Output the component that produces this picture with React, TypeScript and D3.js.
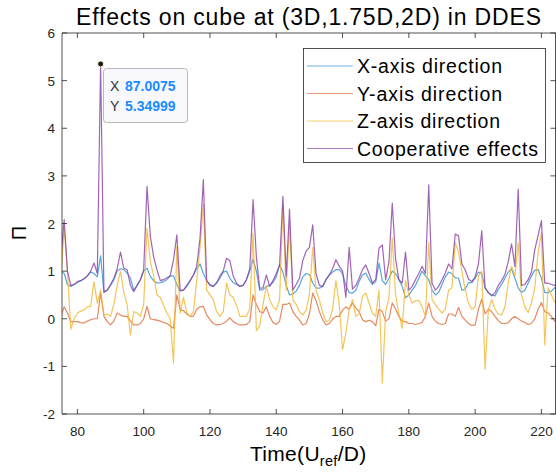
import React from "react";
import * as d3 from "d3";

// sample times (U_ref/D)
const times = [
  75, 76, 77, 78, 79, 80, 81, 82, 83, 84,
  85, 86, 87, 88, 89, 90, 91, 92, 93, 94,
  95, 96, 97, 98, 99, 100, 101, 102, 103, 104,
  105, 106, 107, 108, 109, 110, 111, 112, 113, 114,
  115, 116, 117, 118, 119, 120, 121, 122, 123, 124,
  125, 126, 127, 128, 129, 130, 131, 132, 133, 134,
  135, 136, 137, 138, 139, 140, 141, 142, 143, 144,
  145, 146, 147, 148, 149, 150, 151, 152, 153, 154,
  155, 156, 157, 158, 159, 160, 161, 162, 163, 164,
  165, 166, 167, 168, 169, 170, 171, 172, 173, 174,
  175, 176, 177, 178, 179, 180, 181, 182, 183, 184,
  185, 186, 187, 188, 189, 190, 191, 192, 193, 194,
  195, 196, 197, 198, 199, 200, 201, 202, 203, 204,
  205, 206, 207, 208, 209, 210, 211, 212, 213, 214,
  215, 216, 217, 218, 219, 220, 221, 222, 223, 224,
  225,
];

const xDir = [
  1.0, 0.95, 0.72, 0.68, 0.72, 0.76, 0.8, 0.84, 0.9, 0.98,
  0.95, 0.88, 1.32, 0.55, 0.6, 0.7, 0.82, 1.0, 1.05, 1.03,
  0.96, 0.85, 0.6, 0.7, 0.82, 1.0, 1.06, 0.89, 0.8, 0.75,
  0.76, 0.78, 0.82, 0.9, 0.9, 0.72, 0.58, 0.6, 0.68, 0.8,
  0.92, 1.05, 1.15, 0.95, 0.8, 0.72, 0.68, 0.76, 0.85, 0.98,
  1.0, 0.85, 0.76, 0.72, 0.68, 0.7, 0.82, 1.0, 1.25, 1.0,
  0.6, 0.61, 0.68, 0.7, 0.76, 0.88, 1.13, 0.98, 0.7, 0.5,
  0.52, 0.58, 0.7, 0.88, 0.95, 0.93, 0.75, 0.65, 0.64, 0.68,
  0.82, 0.92, 0.98, 1.03, 1.03, 0.95, 0.7, 0.55, 0.54, 0.6,
  0.78, 0.92, 0.96, 0.82, 0.72, 0.78, 1.17, 0.8, 0.72, 0.85,
  1.0, 0.95, 0.82, 0.68, 0.44, 0.5, 0.6, 0.7, 0.85, 1.0,
  0.9, 0.82, 0.6, 0.5, 0.55, 0.72, 0.88, 0.98, 0.95, 0.86,
  0.85, 0.6, 0.62, 0.76, 0.76, 0.85, 0.98, 0.95, 0.65, 0.55,
  0.5, 0.48, 0.62, 0.72, 0.85, 0.98, 1.05, 0.85, 0.65, 0.55,
  0.6, 0.75, 0.9, 1.02, 1.03, 0.85, 0.55, 0.55, 0.58, 0.65,
  0.65,
];

const yDir = [
  0.05, 0.25, 0.12, -0.06, -0.06, -0.06, -0.08, -0.09, -0.05, -0.02,
  0.0, 0.0, 0.54, 0.05, -0.06, -0.13, -0.05, 0.12, 0.08, 0.05,
  0.05, -0.05, -0.13, -0.13, -0.1, 0.0, 0.26, 0.0, -0.02, -0.03,
  -0.05, -0.08, -0.1, -0.15, -0.2, 0.5, 0.19, 0.17, 0.1, 0.05,
  0.05, 0.2, 0.25, 0.26, 0.08, -0.02, -0.1, -0.13, -0.12, -0.1,
  -0.05, 0.02, -0.06, -0.1, -0.13, -0.13, -0.12, -0.06, 0.5, 0.3,
  0.15, 0.12, 0.25, 0.05, -0.08, -0.12, -0.05, 0.3, 0.3, 0.33,
  0.15, 0.05, -0.03, -0.13, -0.1, 0.1, 0.54, 0.38, 0.15, -0.02,
  -0.13, -0.1, -0.01, 0.05, 0.05, 0.18, 0.25, 0.2, 0.33, 0.23,
  0.15, -0.02, -0.06, -0.03, -0.06, -0.15, 0.2, 0.15, -0.05, 0.0,
  0.33, 0.2, 0.05, -0.05, -0.06, -0.1, -0.1, -0.12, -0.1, -0.08,
  0.05, 0.33, 0.05, -0.05, -0.1, -0.12, -0.1, 0.1, 0.1, 0.05,
  0.24, 0.05, -0.03, -0.1, -0.14, -0.13, 0.2, 0.41, 0.1, 0.2,
  0.15, 0.05, -0.04, -0.1, -0.1, -0.08, 0.0, 0.05, 0.0, -0.05,
  -0.08, -0.12, -0.1, 0.0, 0.2, 0.34, 0.15, 0.12, 0.05, -0.05,
  -0.05,
];

const zDir = [
  0.85, 1.9, 1.0, -0.22, 0.0, 0.12, 0.16, 0.19, 0.25, 0.26,
  0.78, 0.33, 0.6, 0.08, 0.1, 0.05, 0.3, 0.7, 1.0, 0.55,
  0.3, -0.34, 0.15, 0.12, 0.05, 0.3, 1.9, 1.2, 0.9, 0.5,
  0.45, 0.28, 0.12, 0.0, -0.93, 1.52, 0.12, 0.45, 0.13, 0.05,
  0.15, 0.8, 1.5, 2.4, 0.6, 0.5, 0.4, 0.15, 0.05, 0.15,
  0.75, 0.5, 0.45, 0.28, 0.05, 0.05, 0.05, 0.2, 1.8, -0.25,
  -0.15, 0.3, 0.68, 0.4, 0.25, 0.19, 0.4, 2.36, 0.6, 2.0,
  0.4, 0.3, 0.15, 0.08, 0.18, 0.5, 1.5, 0.6, 0.4, 0.12,
  -0.06, -0.03, 0.2, 0.8, 0.3, -0.65, -0.3, 0.2, 0.4, 0.05,
  0.1, 0.47, 0.54, 0.33, 0.12, 0.05, 0.6, -1.35, 0.15, 0.45,
  1.7, 0.5, 0.1, -0.2, 0.8, 0.5, 0.33, 0.38, 0.38, 0.25,
  0.05, 1.6, 0.4, 0.3, 0.2, 0.12, 0.2, 0.6, 0.65, 1.6,
  1.4, 1.0, 0.6, 0.33, 0.2, 0.25, 0.9, 1.0, -1.06, 0.2,
  0.4, 0.2, 0.1, 0.08, 0.25, 0.75, 1.1, 0.9, 1.6, 0.5,
  0.25, 0.13, 0.33, 0.65, 1.4, 1.81, -0.55, 0.65, 0.5, 0.35,
  0.3,
];

const coop = [
  1.3, 2.08, 1.0, 0.7, 0.72, 0.78, 0.8, 0.84, 0.9, 1.0,
  1.17, 0.95, 5.35, 0.57, 0.6, 0.72, 0.85, 1.05, 1.4, 1.06,
  1.03, 0.7, 0.57, 0.7, 0.82, 1.03, 2.78, 1.73, 1.3, 1.03,
  0.8, 0.82, 0.86, 0.9, 1.24, 1.76, 0.6, 0.6, 0.7, 0.8,
  0.92, 1.1, 1.7, 2.92, 0.8, 0.7, 0.68, 0.75, 0.9, 1.0,
  1.27, 1.22, 0.9, 0.75, 0.68, 0.7, 0.82, 1.05, 2.5, 1.3,
  0.64, 0.65, 0.92, 0.68, 0.8, 0.95, 1.13, 2.57, 0.9, 2.3,
  0.6, 0.72, 0.85, 1.22, 1.42, 1.5, 1.97, 0.95, 0.7, 0.68,
  0.82, 0.92, 1.05, 1.24, 1.1, 1.0, 0.45, 1.5, 0.62, 0.7,
  0.85, 1.03, 1.13, 0.95, 0.75, 0.82, 1.48, 1.55, 0.82, 1.2,
  2.43, 1.25, 0.82, 0.75, 1.4, 0.6, 0.68, 0.82, 0.95, 1.1,
  0.95, 2.81, 0.75, 0.6, 0.68, 0.82, 0.96, 1.15, 1.05, 1.78,
  1.74, 1.15, 1.03, 0.83, 0.78, 0.88, 1.15, 1.85, 0.65, 0.55,
  0.48, 0.55, 0.7, 0.8, 0.93, 1.2, 1.57, 1.1, 2.72, 0.7,
  0.72, 0.82, 0.98, 1.45, 1.75, 2.06, 0.75, 0.75, 0.72, 0.7,
  0.7,
];

const seriesNames = ["X-axis direction", "Y-axis direction", "Z-axis direction", "Cooperative effects"];
const legendWidths = [145, 145, 143, 181];
const seriesColors = ["#2f8fd3", "#e06a38", "#f1b630", "#8a3fa3"];
const xTicks = [80, 100, 120, 140, 160, 180, 200, 220];
const yTicks = [-2, -1, 0, 1, 2, 3, 4, 5, 6];
const tipX = 87.0075;
const tipY = 5.34999;

const W = 556;
const H = 472;
const font = "'Liberation Sans', Arial, Helvetica, sans-serif";
const axisColor = "#262626";

export default function App() {
  const left = 62, right = 556, top = 33, bottom = 414;
  const x = d3.scaleLinear().domain([75.35, 224.4]).range([left, right]);
  const y = d3.scaleLinear().domain([-2, 6]).range([bottom, top]);

  const allSeries = [xDir, yDir, zDir, coop];
  const line = d3.line<number>()
    .x((_, i) => x(times[i]))
    .y(d => y(d));

  const tick = 5;

  return (
    <svg width={W} height={H} style={{ position: "absolute", left: 0, top: 0, background: "#fff" }}
      fontFamily={font}>
      <defs>
        <clipPath id="plotClip">
          <rect x={left} y={top} width={right - left} height={bottom - top} />
        </clipPath>
      </defs>

      {/* title */}
      <text x={76} y={25} fontSize={23} fill="#000" textLength={465} lengthAdjust="spacing">
        Effects on cube at (3D,1.75D,2D) in DDES
      </text>

      {/* lines */}
      <g clipPath="url(#plotClip)">
        {allSeries.map((s, k) => (
          <path key={k} d={line(s) || ""} fill="none" stroke={seriesColors[k]}
            strokeWidth={1.2} strokeOpacity={0.8} strokeLinejoin="round" />
        ))}
      </g>

      {/* axes box */}
      <g stroke={axisColor} strokeWidth={0.8} fill="none">
        <line x1={left} x2={right} y1={bottom} y2={bottom} />
        <line x1={left} x2={right} y1={top} y2={top} />
        <line x1={left} x2={left} y1={top} y2={bottom} />
        <line x1={right - 0.5} x2={right - 0.5} y1={top} y2={bottom} />
        {xTicks.map(t => (
          <g key={"xt" + t}>
            <line x1={x(t)} x2={x(t)} y1={bottom} y2={bottom - tick} />
            <line x1={x(t)} x2={x(t)} y1={top} y2={top + tick} />
          </g>
        ))}
        {yTicks.map(t => (
          <g key={"yt" + t}>
            <line x1={left} x2={left + tick} y1={y(t)} y2={y(t)} />
            <line x1={right - 0.5} x2={right - 0.5 - tick} y1={y(t)} y2={y(t)} />
          </g>
        ))}
      </g>

      {/* tick labels */}
      <g fontSize={13.5} fill={axisColor}>
        {xTicks.map(t => (
          <text key={"xl" + t} x={x(t)} y={436} textAnchor="middle">{t}</text>
        ))}
        {yTicks.map(t => (
          <text key={"yl" + t} x={55} y={y(t) + 5} textAnchor="end">{t}</text>
        ))}
      </g>

      {/* axis labels */}
      <text x={250} y={461} fontSize={21} fill="#000" letterSpacing={0.3}>
        Time(U<tspan dy={5} fontSize={14.5}>ref</tspan><tspan dy={-5}>/D)</tspan>
      </text>
      <text transform={`translate(26,233) rotate(-90)`} textAnchor="middle" fontSize={20} fill="#000">
        Π
      </text>

      {/* legend */}
      <g>
        <rect x={303.5} y={48.5} width={242} height={114} fill="#fff" stroke={axisColor} strokeWidth={0.8} />
        {seriesNames.map((name, i) => {
          const cy = 66 + i * 27.5;
          return (
            <g key={name}>
              <line x1={307} x2={353} y1={cy} y2={cy} stroke={seriesColors[i]} strokeWidth={1} strokeOpacity={0.7} />
              <text x={357} y={cy + 7} fontSize={19.5} fill="#000"
                textLength={legendWidths[i]} lengthAdjust="spacing">{name}</text>
            </g>
          );
        })}
      </g>

      {/* data tip */}
      <g>
        <rect x={103.5} y={68.5} width={84} height={54} rx={3} fill="#f9f9fd" stroke="#b8b8b8" strokeWidth={1} />
        <text x={110} y={91} fontSize={14} fill="#333">X</text>
        <text x={125} y={91} fontSize={14} fontWeight="bold" fill="#1a8cff">{tipX.toFixed(4)}</text>
        <text x={110} y={111} fontSize={14} fill="#333">Y</text>
        <text x={125} y={111} fontSize={14} fontWeight="bold" fill="#1a8cff">{tipY.toFixed(5)}</text>
        <circle cx={x(tipX)} cy={y(tipY)} r={3} fill="#1a1a1a" stroke="#fff8c8" strokeWidth={1} />
      </g>
    </svg>
  );
}
